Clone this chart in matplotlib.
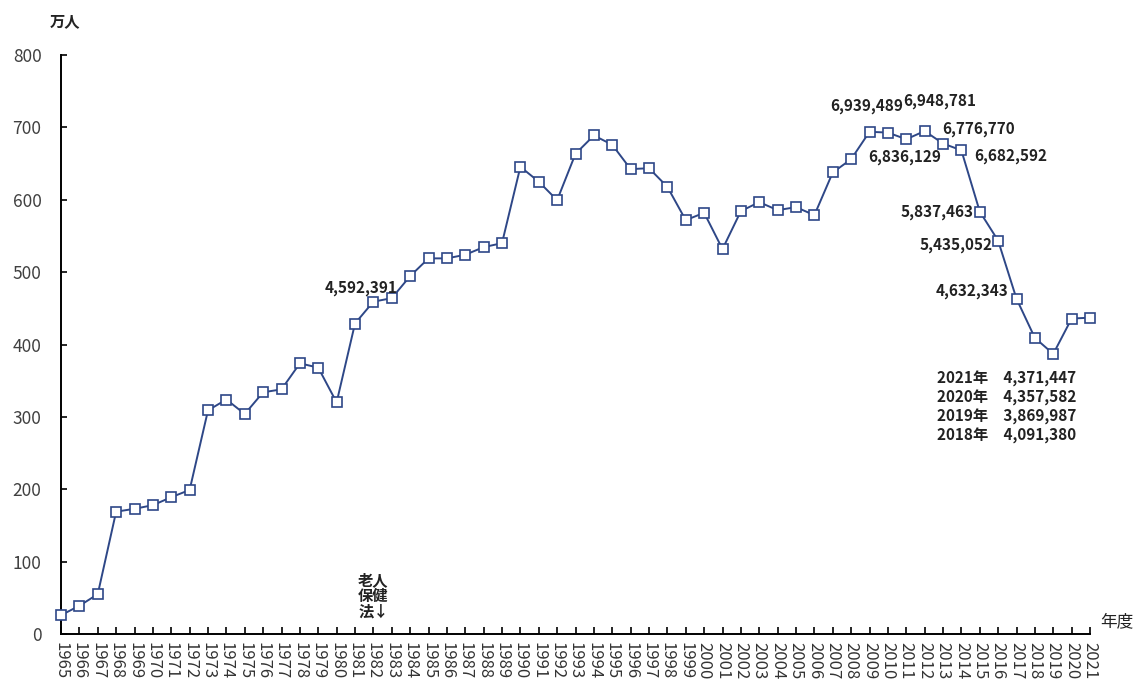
import matplotlib
matplotlib.use('Agg')
import matplotlib.pyplot as plt

plt.rcParams['font.family'] = ['Noto Sans CJK JP', 'DejaVu Sans']

# Years (fiscal) and persons in units of 10,000
years = list(range(1965, 2022))
values = [26, 39, 55, 169, 173, 178, 189, 199, 309, 324,
          304, 334, 338, 374, 368, 320, 429, 459.2, 464, 494.5,
          519, 519, 524, 534.5, 540, 645.5, 625, 599.4, 663.5, 688.8,
          676, 642.3, 643.6, 617.8, 571.8, 582, 531.8, 584.3, 596.7, 585.6,
          589.8, 578.7, 637.7, 656, 693.9, 692.8, 683.6, 694.9, 677.7, 668.3,
          583.7, 543.5, 463.2, 409.1, 387.0, 435.8, 437.1]

# Exact counts shown as labels
label_values = {1982: 4592391, 2009: 6939489, 2011: 6836129, 2012: 6948781,
                2013: 6776770, 2014: 6682592, 2015: 5837463, 2016: 5435052,
                2017: 4632343}
# label placement: (dx px, dy px, ha)
label_offsets = {1982: (-12, 14, 'center'), 2009: (-3, 26, 'center'),
                 2011: (-2, -18, 'center'), 2012: (15, 30, 'center'),
                 2013: (36, 15, 'center'), 2014: (49, -6, 'center'),
                 2015: (-6, 0, 'right'), 2016: (-6, -4, 'right'),
                 2017: (-8, 8, 'right')}

block_years = [2021, 2020, 2019, 2018]
block_counts = [4371447, 4357582, 3869987, 4091380]

LINE_COLOR = '#2E4787'
PX = 0.72  # points per pixel at dpi 100

fig = plt.figure(figsize=(11.34, 6.79), dpi=100)
ax = fig.add_axes([61 / 1134, 1 - 634 / 679, (1090 - 61) / 1134, (634 - 55) / 679])

ax.plot(years, values, color=LINE_COLOR, linewidth=1.4, marker='s',
        markersize=7, markerfacecolor='white', markeredgecolor=LINE_COLOR,
        markeredgewidth=1.2, clip_on=False, zorder=3)

ax.set_xlim(1965, 2021)
ax.set_ylim(0, 800)
ax.set_yticks(range(0, 801, 100))
ax.set_xticks(years)
ax.set_xticklabels([str(y) for y in years], rotation=270, fontsize=12, color='#333333')
ax.tick_params(axis='y', direction='in', length=4, width=1.2, labelsize=12.5,
               labelcolor='#404040', pad=14)
ax.tick_params(axis='x', direction='in', length=5, width=1.2, pad=6)
for side in ['top', 'right']:
    ax.spines[side].set_visible(False)
for side in ['left', 'bottom']:
    ax.spines[side].set_linewidth(1.4)

# value labels
for yr, cnt in label_values.items():
    dx, dy, ha = label_offsets[yr]
    ax.annotate(f'{cnt:,}', (yr, values[years.index(yr)]), xytext=(dx * PX, dy * PX),
                textcoords='offset points', ha=ha, va='center', fontsize=11,
                fontweight='bold', color='#222222')

# recent years block
for i, (yr, cnt) in enumerate(zip(block_years, block_counts)):
    ax.annotate(f'{yr}年\u3000{cnt:,}', (2012.7, 352), xytext=(0, -19 * i * PX),
                textcoords='offset points', ha='left', va='center', fontsize=11,
                fontweight='bold', color='#222222')

# law note
ax.annotate('老人\n保健\n法↓', (1982, 0), xytext=(0, 14 * PX), textcoords='offset points',
            ha='center', va='bottom', fontsize=11, fontweight='bold', color='#222222',
            linespacing=1.0, family=['Noto Sans CJK JP', 'DejaVu Sans'])

fig.text(65 / 1134, 1 - 21 / 679, '万人', ha='center', va='center', fontsize=11,
         fontweight='bold', color='#222222')
fig.text(1117 / 1134, 1 - 622 / 679, '年度', ha='center', va='center', fontsize=12,
         color='#222222')

fig.savefig('out.png', dpi=100, facecolor='white')
